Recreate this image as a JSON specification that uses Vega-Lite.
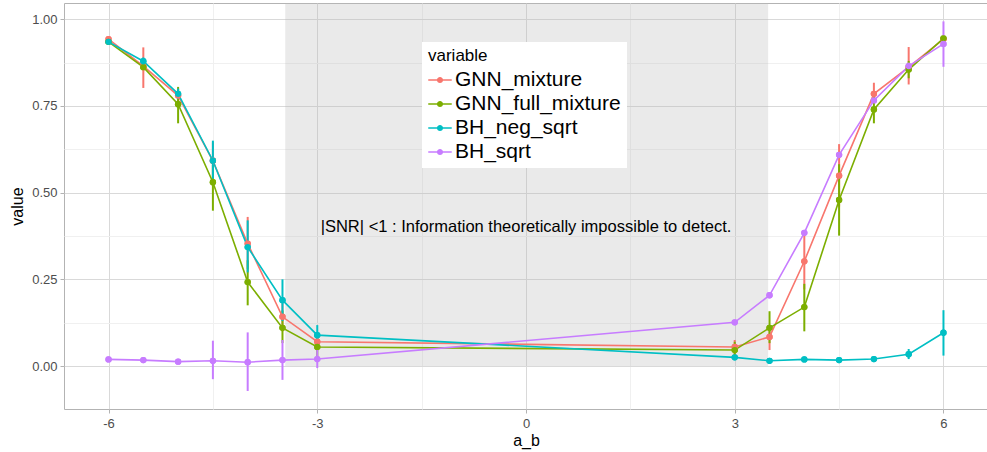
{
  "$schema": "https://vega.github.io/schema/vega-lite/v6.json",
  "width": 924,
  "height": 406,
  "autosize": {"type": "none"},
  "padding": {"left": 64, "top": 3, "right": 2, "bottom": 43},
  "background": "white",
  "config": {
    "font": "Liberation Sans",
    "view": {"stroke": "#b3b3b3", "strokeWidth": 1}
  },
  "datasets": {
    "series": [
      {"a_b": -6, "variable": "GNN_mixture", "value": 0.943, "lo": 0.943, "hi": 0.943},
      {"a_b": -5.5, "variable": "GNN_mixture", "value": 0.865, "lo": 0.802, "hi": 0.919},
      {"a_b": -5, "variable": "GNN_mixture", "value": 0.78, "lo": 0.76, "hi": 0.8},
      {"a_b": -4.5, "variable": "GNN_mixture", "value": 0.592, "lo": 0.535, "hi": 0.645},
      {"a_b": -4, "variable": "GNN_mixture", "value": 0.353, "lo": 0.28, "hi": 0.43},
      {"a_b": -3.5, "variable": "GNN_mixture", "value": 0.142, "lo": 0.1, "hi": 0.18},
      {"a_b": -3, "variable": "GNN_mixture", "value": 0.07, "lo": 0.045, "hi": 0.095},
      {"a_b": 3, "variable": "GNN_mixture", "value": 0.055, "lo": 0.027, "hi": 0.075},
      {"a_b": 3.5, "variable": "GNN_mixture", "value": 0.084, "lo": 0.046, "hi": 0.118},
      {"a_b": 4, "variable": "GNN_mixture", "value": 0.302, "lo": 0.221, "hi": 0.386},
      {"a_b": 4.5, "variable": "GNN_mixture", "value": 0.549, "lo": 0.46, "hi": 0.64},
      {"a_b": 5, "variable": "GNN_mixture", "value": 0.785, "lo": 0.764, "hi": 0.817},
      {"a_b": 5.5, "variable": "GNN_mixture", "value": 0.862, "lo": 0.812, "hi": 0.92},
      {"a_b": 6, "variable": "GNN_mixture", "value": 0.943, "lo": 0.938, "hi": 0.95},
      {"a_b": -6, "variable": "GNN_full_mixture", "value": 0.935, "lo": 0.935, "hi": 0.935},
      {"a_b": -5.5, "variable": "GNN_full_mixture", "value": 0.862, "lo": 0.855, "hi": 0.87},
      {"a_b": -5, "variable": "GNN_full_mixture", "value": 0.755, "lo": 0.7, "hi": 0.805},
      {"a_b": -4.5, "variable": "GNN_full_mixture", "value": 0.53, "lo": 0.448, "hi": 0.58},
      {"a_b": -4, "variable": "GNN_full_mixture", "value": 0.242, "lo": 0.175, "hi": 0.305},
      {"a_b": -3.5, "variable": "GNN_full_mixture", "value": 0.11, "lo": 0.066, "hi": 0.16},
      {"a_b": -3, "variable": "GNN_full_mixture", "value": 0.055, "lo": 0.027, "hi": 0.08},
      {"a_b": 3, "variable": "GNN_full_mixture", "value": 0.046, "lo": 0.02, "hi": 0.07},
      {"a_b": 3.5, "variable": "GNN_full_mixture", "value": 0.11, "lo": 0.066, "hi": 0.158},
      {"a_b": 4, "variable": "GNN_full_mixture", "value": 0.17, "lo": 0.1, "hi": 0.237},
      {"a_b": 4.5, "variable": "GNN_full_mixture", "value": 0.479, "lo": 0.376, "hi": 0.582},
      {"a_b": 5, "variable": "GNN_full_mixture", "value": 0.74, "lo": 0.7, "hi": 0.78},
      {"a_b": 5.5, "variable": "GNN_full_mixture", "value": 0.855, "lo": 0.83, "hi": 0.88},
      {"a_b": 6, "variable": "GNN_full_mixture", "value": 0.945, "lo": 0.945, "hi": 0.945},
      {"a_b": -6, "variable": "BH_neg_sqrt", "value": 0.935, "lo": 0.935, "hi": 0.935},
      {"a_b": -5.5, "variable": "BH_neg_sqrt", "value": 0.879, "lo": 0.86, "hi": 0.89},
      {"a_b": -5, "variable": "BH_neg_sqrt", "value": 0.785, "lo": 0.77, "hi": 0.8},
      {"a_b": -4.5, "variable": "BH_neg_sqrt", "value": 0.592, "lo": 0.54, "hi": 0.65},
      {"a_b": -4, "variable": "BH_neg_sqrt", "value": 0.343, "lo": 0.27, "hi": 0.42},
      {"a_b": -3.5, "variable": "BH_neg_sqrt", "value": 0.19, "lo": 0.13, "hi": 0.25},
      {"a_b": -3, "variable": "BH_neg_sqrt", "value": 0.089, "lo": 0.055, "hi": 0.118},
      {"a_b": 3, "variable": "BH_neg_sqrt", "value": 0.025, "lo": 0.025, "hi": 0.025},
      {"a_b": 3.5, "variable": "BH_neg_sqrt", "value": 0.015, "lo": 0.015, "hi": 0.015},
      {"a_b": 4, "variable": "BH_neg_sqrt", "value": 0.019, "lo": 0.019, "hi": 0.019},
      {"a_b": 4.5, "variable": "BH_neg_sqrt", "value": 0.017, "lo": 0.017, "hi": 0.017},
      {"a_b": 5, "variable": "BH_neg_sqrt", "value": 0.02, "lo": 0.02, "hi": 0.02},
      {"a_b": 5.5, "variable": "BH_neg_sqrt", "value": 0.034, "lo": 0.02, "hi": 0.049},
      {"a_b": 6, "variable": "BH_neg_sqrt", "value": 0.096, "lo": 0.03, "hi": 0.161},
      {"a_b": -6, "variable": "BH_sqrt", "value": 0.019, "lo": 0.019, "hi": 0.019},
      {"a_b": -5.5, "variable": "BH_sqrt", "value": 0.017, "lo": 0.01, "hi": 0.022},
      {"a_b": -5, "variable": "BH_sqrt", "value": 0.0125, "lo": 0.008, "hi": 0.017},
      {"a_b": -4.5, "variable": "BH_sqrt", "value": 0.015, "lo": -0.038, "hi": 0.073},
      {"a_b": -4, "variable": "BH_sqrt", "value": 0.011, "lo": -0.072, "hi": 0.097},
      {"a_b": -3.5, "variable": "BH_sqrt", "value": 0.017, "lo": -0.04, "hi": 0.075},
      {"a_b": -3, "variable": "BH_sqrt", "value": 0.02, "lo": -0.006, "hi": 0.055},
      {"a_b": 3, "variable": "BH_sqrt", "value": 0.126, "lo": 0.126, "hi": 0.126},
      {"a_b": 3.5, "variable": "BH_sqrt", "value": 0.204, "lo": 0.204, "hi": 0.204},
      {"a_b": 4, "variable": "BH_sqrt", "value": 0.384, "lo": 0.384, "hi": 0.384},
      {"a_b": 4.5, "variable": "BH_sqrt", "value": 0.609, "lo": 0.609, "hi": 0.609},
      {"a_b": 5, "variable": "BH_sqrt", "value": 0.766, "lo": 0.766, "hi": 0.766},
      {"a_b": 5.5, "variable": "BH_sqrt", "value": 0.865, "lo": 0.855, "hi": 0.875},
      {"a_b": 6, "variable": "BH_sqrt", "value": 0.929, "lo": 0.863, "hi": 0.994}
    ],
    "region": [
      {"xmin": -3.46, "xmax": 3.48, "ymin": 0, "ymax": 1.2}
    ],
    "note": [
      {"a_b": 0, "value": 0.4, "label": "|SNR| <1 : Information theoretically impossible to detect."}
    ]
  },
  "layer": [
    {
      "data": {"name": "region"},
      "mark": {"type": "rect", "fill": "#bbbbbb", "opacity": 0.3, "clip": true},
      "encoding": {
        "x": {
          "field": "xmin", "type": "quantitative",
          "scale": {"domain": [-6.64, 6.64], "nice": false, "zero": false},
          "axis": {
            "title": "a_b",
            "titleFont": "Liberation Sans",
            "titleFontSize": 16,
            "titleFontWeight": "normal",
            "titleColor": "#000000",
            "titlePadding": 2,
            "values": [-6, -4.5, -3, -1.5, 0, 1.5, 3, 4.5, 6],
            "labelExpr": "datum.value % 3 === 0 ? '' + datum.value : ''",
            "labelFontSize": 13,
            "labelColor": "#4d4d4d",
            "labelPadding": 4,
            "domain": false,
            "ticks": true,
            "tickSize": 4,
            "tickColor": {"condition": {"test": "datum.value % 3 === 0", "value": "#b3b3b3"}, "value": "transparent"},
            "grid": true,
            "gridColor": {"condition": {"test": "datum.value % 3 === 0", "value": "#d9d9d9"}, "value": "#f0f0f0"},
            "gridWidth": 1
          }
        },
        "x2": {"field": "xmax"},
        "y": {
          "field": "ymin", "type": "quantitative",
          "scale": {"domain": [-0.124, 1.047], "nice": false, "zero": false},
          "axis": {
            "title": "value",
            "titleFont": "Liberation Sans",
            "titleFontSize": 16,
            "titleFontWeight": "normal",
            "titleColor": "#000000",
            "titlePadding": 6,
            "values": [0, 0.125, 0.25, 0.375, 0.5, 0.625, 0.75, 0.875, 1],
            "labelExpr": "datum.value % 0.25 === 0 ? format(datum.value, '.2f') : ''",
            "labelFontSize": 13,
            "labelColor": "#4d4d4d",
            "labelPadding": 3,
            "domain": false,
            "ticks": true,
            "tickSize": 4,
            "tickColor": {"condition": {"test": "datum.value % 0.25 === 0", "value": "#b3b3b3"}, "value": "transparent"},
            "grid": true,
            "gridColor": {"condition": {"test": "datum.value % 0.25 === 0", "value": "#d9d9d9"}, "value": "#f0f0f0"},
            "gridWidth": 1
          }
        },
        "y2": {"field": "ymax"}
      }
    },
    {
      "data": {"name": "series"},
      "mark": {"type": "point", "filled": true, "opacity": 1, "size": 40},
      "encoding": {
        "x": {"field": "a_b", "type": "quantitative"},
        "y": {"field": "value", "type": "quantitative"},
        "color": {
          "field": "variable", "type": "nominal",
          "scale": {"domain": ["GNN_mixture", "GNN_full_mixture", "BH_neg_sqrt", "BH_sqrt"], "range": ["#F8766D", "#7CAE00", "#00BFC4", "#C77CFF"]},
          "legend": {
            "title": "variable",
            "orient": "none",
            "legendX": 358,
            "legendY": 39,
            "fillColor": "white",
            "padding": 6,
            "titleFont": "Liberation Sans",
            "titleFontSize": 17,
            "titleFontWeight": "normal",
            "titleColor": "#000000",
            "titlePadding": 3,
            "labelFont": "Liberation Sans",
            "labelFontSize": 21,
            "labelColor": "#000000",
            "labelOffset": 3,
            "labelLimit": 400,
            "rowPadding": 2,
            "symbolType": "M-1,-0.065H1V0.065H-1Z M0.26,0A0.26,0.26 0 1,1 -0.26,0A0.26,0.26 0 1,1 0.26,0Z",
            "symbolSize": 552,
            "symbolStrokeWidth": 0,
            "symbolOpacity": 1
          }
        }
      }
    },
    {
      "data": {"name": "series"},
      "mark": {"type": "rule", "strokeWidth": 2},
      "encoding": {
        "x": {"field": "a_b", "type": "quantitative"},
        "y": {"field": "lo", "type": "quantitative"},
        "y2": {"field": "hi"},
        "color": {"field": "variable", "type": "nominal"}
      }
    },
    {
      "data": {"name": "series"},
      "mark": {"type": "line", "strokeWidth": 1.6},
      "encoding": {
        "x": {"field": "a_b", "type": "quantitative"},
        "y": {"field": "value", "type": "quantitative"},
        "color": {"field": "variable", "type": "nominal"}
      }
    },
    {
      "data": {"name": "series"},
      "mark": {"type": "point", "filled": true, "opacity": 1, "size": 40},
      "encoding": {
        "x": {"field": "a_b", "type": "quantitative"},
        "y": {"field": "value", "type": "quantitative"},
        "color": {"field": "variable", "type": "nominal"}
      }
    },
    {
      "data": {"name": "note"},
      "mark": {"type": "text", "fontSize": 16.5, "font": "Liberation Sans", "color": "#000000", "align": "center", "baseline": "middle"},
      "encoding": {
        "x": {"field": "a_b", "type": "quantitative"},
        "y": {"field": "value", "type": "quantitative"},
        "text": {"field": "label"}
      }
    }
  ]
}
